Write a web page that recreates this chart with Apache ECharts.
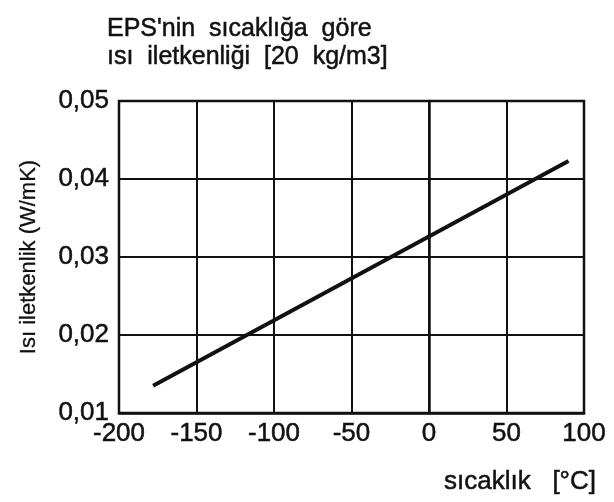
<!DOCTYPE html>
<html>
<head>
<meta charset="utf-8">
<script src="https://cdn.jsdelivr.net/npm/echarts@6/dist/echarts.min.js"></script>
<style>html,body{margin:0;padding:0;background:#fff;}#c{width:614px;height:502px;}</style>
</head>
<body>
<div id="c"></div>
<script>
var titleLines = ["EPS'nin  sıcaklığa  göre", "ısı  iletkenliği  [20  kg/m3]"];
var xAxisName = "sıcaklık   [°C]";
var yAxisName = "Isı iletkenlik (W/mK)";
var temperature = [-178, 90];
var conductivity = [0.0135, 0.0423];
var xTicks = [-200, -150, -100, -50, 0, 50, 100];
var yTicks = [0.01, 0.02, 0.03, 0.04, 0.05];

var font = "Liberation Sans";
var ink = '#111';
var chart = echarts.init(document.getElementById('c'), null, {renderer: 'canvas'});
var lineData = temperature.map(function (t, i) { return [t, conductivity[i]]; });
chart.setOption({
  backgroundColor: '#ffffff',
  animation: false,
  title: {
    text: titleLines.join('\n'),
    left: 102, top: 10,
    textStyle: {fontFamily: font, fontSize: 25, fontWeight: 'normal', color: ink, lineHeight: 28,
      textBorderColor: ink, textBorderWidth: 0.5}
  },
  grid: {left: 119, right: 30, top: 101, bottom: 89, show: true, borderColor: ink, borderWidth: 2.5, backgroundColor: 'transparent'},
  xAxis: {
    type: 'value', min: xTicks[0], max: xTicks[xTicks.length - 1], interval: 50,
    name: xAxisName, nameLocation: 'end', nameGap: 12,
    nameTextStyle: {fontFamily: font, fontSize: 26, color: ink, align: 'right', verticalAlign: 'top', padding: [56, 0, 0, 0],
      textBorderColor: ink, textBorderWidth: 0.5},
    axisLine: {show: true, lineStyle: {color: ink, width: 2.5}},
    axisTick: {show: false},
    axisLabel: {fontFamily: font, fontSize: 26, color: ink, margin: 8, textBorderColor: ink, textBorderWidth: 0.5},
    splitLine: {show: true, lineStyle: {color: ink, width: 2}}
  },
  yAxis: {
    type: 'value', min: yTicks[0], max: yTicks[yTicks.length - 1], interval: 0.01,
    name: yAxisName, nameLocation: 'middle', nameGap: 79,
    nameTextStyle: {fontFamily: font, fontSize: 22, color: ink, textBorderColor: ink, textBorderWidth: 0.3},
    axisLine: {show: true, lineStyle: {color: ink, width: 2.5}},
    axisTick: {show: false},
    axisLabel: {fontFamily: font, fontSize: 26, color: ink, margin: 10, textBorderColor: ink, textBorderWidth: 0.5,
      formatter: function (v) { return v.toFixed(2).replace('.', ','); }},
    splitLine: {show: true, lineStyle: {color: ink, width: 2}}
  },
  series: [{
    type: 'line', data: lineData, showSymbol: false, symbol: 'none',
    lineStyle: {color: ink, width: 4}
  }]
});
</script>
</body>
</html>
